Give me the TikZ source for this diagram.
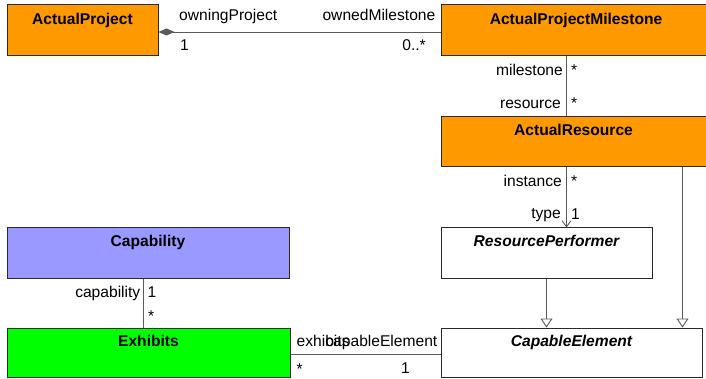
\documentclass[tikz,border=0pt]{standalone}
\usepackage{fontspec}
\setmainfont{Liberation Sans}
\usetikzlibrary{arrows.meta,calc}
\definecolor{orng}{HTML}{FF9900}
\definecolor{capblue}{HTML}{9999FF}
\definecolor{exgreen}{HTML}{00FF00}
\definecolor{bordc}{HTML}{2A2A2A}
\definecolor{linec}{HTML}{5A5A5A}
\begin{document}
\begin{tikzpicture}[x=1pt,y=-1pt,
  font=\fontsize{15.6}{18}\selectfont,
  box/.style={draw=bordc, line width=1pt, rectangle, inner sep=0pt},
  title/.style={anchor=base, inner sep=0pt, font=\fontsize{15.6}{18}\selectfont\bfseries},
  ititle/.style={anchor=base, inner sep=0pt, font=\fontsize{15.6}{18}\selectfont\bfseries\itshape},
  lw/.style={anchor=base west, inner sep=0pt},
  le/.style={anchor=base east, inner sep=0pt},
  assoc/.style={draw=linec, line width=0.9pt},
  gen/.style={draw=linec, line width=0.9pt, -{Triangle[open, length=9pt, width=12pt, fill=white]}}
]
\useasboundingbox (0,0) rectangle (706,379);

% boxes
\node[box, fill=orng, minimum width=151pt, minimum height=51pt] (ap) at (82.5,30.5) {};
\node[box, fill=orng, minimum width=266pt, minimum height=51pt] (apm) at (574,30.5) {};
\node[box, fill=orng, minimum width=266pt, minimum height=50pt] (ar) at (574,142) {};
\node[box, fill=white, minimum width=211pt, minimum height=50pt] (rp) at (546.5,253) {};
\node[box, fill=white, minimum width=261pt, minimum height=49pt] (ce) at (571.5,352.5) {};
\node[box, fill=capblue, minimum width=282pt, minimum height=50pt] (cap) at (148,253) {};
\node[box, fill=exgreen, minimum width=283pt, minimum height=49pt] (ex) at (148.5,352.5) {};

% titles
\node[title] (apt) at ($(ap.north)+(0,20.5)$) {ActualProject};
\node[title] (apmt) at ($(apm.north)+(2,20.5)$) {ActualProjectMilestone};
\node[title] (art) at ($(ar.north)+(-0.5,19)$) {ActualResource};
\node[ititle] (rpt) at ($(rp.north)+(0,19)$) {ResourcePerformer};
\node[ititle] (cet) at ($(ce.north)+(0,19)$) {CapableElement};
\node[title] (capt) at ($(cap.north)+(0,19)$) {Capability};
\node[title] (ext) at ($(ex.north)+(0,19)$) {Exhibits};

% connectors
\draw[assoc, {Diamond[length=16pt, width=7pt, fill=linec]}-] ([yshift=-1.5pt]ap.east) -- ([yshift=-1.5pt]ap.east -| apm.west);
\draw[assoc] ([xshift=126pt]apm.south west) -- ([xshift=126pt]ar.north west);
\draw[assoc, -{Straight Barb[length=6pt, width=9pt]}] ([xshift=126pt]ar.south west) -- ([xshift=126pt]rp.north west);
\draw[gen] (rp.south) -- (rp.south |- ce.north);
\draw[gen] ([xshift=-25pt]ar.south east) coordinate (g1) -- (g1 |- ce.north);
\draw[assoc] ([xshift=137pt]cap.south west) -- ([xshift=137pt]ex.north west);
\draw[assoc] ([yshift=-1.5pt]ex.east) -- ([yshift=-1.5pt]ex.east -| ce.west);

% role and multiplicity labels
\node[lw] (l1) at (179,21) {owningProject};
\node[le] (l2) at (435.5,21) {ownedMilestone};
\node[lw] (l3) at (180,51) {1};
\node[le] (l4) at (426,51) {0..*};
\node[le] (l5) at (563,76) {milestone};
\node[lw] (l6) at (571,76) {*};
\node[le] (l7) at (561,109) {resource};
\node[lw] (l8) at (571,109) {*};
\node[le] (l9) at (562,187) {instance};
\node[lw] (l10) at (571,187) {*};
\node[le] (l11) at (561,219) {type};
\node[lw] (l12) at (571,219.5) {1};
\node[le] (l13) at (140.5,297) {capability};
\node[lw] (l14) at (147.5,297) {1};
\node[lw] (l15) at (148,321) {*};
\node[lw] (l16) at (296.5,346) {exhibits};
\node[le] (l17) at (437.5,346) {capableElement};
\node[lw] (l18) at (296.5,374) {*};
\node[lw] (l19) at (401,373.5) {1};
\end{tikzpicture}
\end{document}
